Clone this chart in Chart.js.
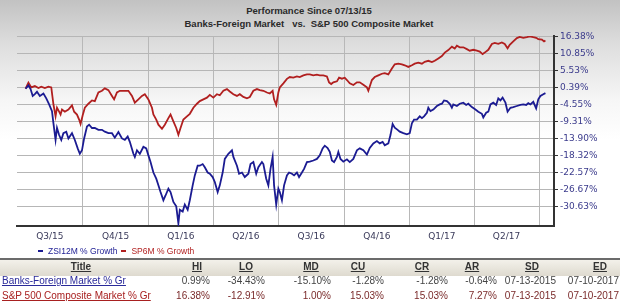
<!DOCTYPE html>
<html>
<head>
<meta charset="utf-8">
<title>Performance Since 07/13/15</title>
<script src="https://cdn.jsdelivr.net/npm/chart.js"></script>
<style>
  body{margin:0;}
  #wrap{position:relative;width:620px;height:303px;overflow:hidden;
    background:linear-gradient(to bottom,#c2c2c2 0px,#dedede 45px,#f6f6f6 100px,#ffffff 140px);
    font-family:"Liberation Sans",Arial,sans-serif;}
  #chart{position:absolute;left:0;top:0;}
  .title{position:absolute;left:0;width:618px;text-align:center;font-weight:bold;font-size:9.5px;color:#2a2a2a;white-space:pre;}
  #legend{position:absolute;left:38px;top:245px;font-size:8.5px;white-space:nowrap;}
  #legend span{display:inline-block;vertical-align:middle;}
  #legend .dash{width:5px;height:2px;margin-right:5px;}
  #legend .txt{margin-right:4px;}
  #tbl{position:absolute;left:0;top:256px;width:620px;height:47px;background:#fff;font-size:10px;}
  #tbl .band{position:absolute;left:0;top:2px;width:620px;height:16px;background:linear-gradient(#f3f1ea,#dedacf);border-top:2px solid #6b6b6b;}
  #tbl .cell{position:absolute;white-space:nowrap;line-height:12px;}
  #tbl .head{font-weight:bold;text-decoration:underline;color:#333;transform:translateX(-50%);}
</style>
</head>
<body>
<div id="wrap">
  <div class="title" style="top:5px">Performance Since 07/13/15</div>
  <div class="title" style="top:18px">Banks-Foreign Market   vs.  S&amp;P 500 Composite Market</div>
  <canvas id="chart" width="620" height="303"></canvas>
  <div id="legend"></div>
  <div id="tbl"><div class="band"></div></div>
</div>
<script>
// days counted from 07/01/2015, values are % growth since 07/13/15
const zsiDays = [12,16,19,22,25,28,32,37,41,45,49,51,54,56,59,62,65,69,72,77,81,85,88,91,94,98,101,105,109,114,119,123,128,133,137,142,147,151,155,158,163,165,168,172,177,181,184,187,191,195,198,201,205,208,212,215,219,223,226,228,232,235,239,242,246,249,253,256,260,263,267,270,274,277,281,284,288,291,296,301,303,308,311,315,319,324,327,331,335,338,343,345,349,352,355,358,360,363,366,368,371,374,378,381,385,388,392,395,399,402,406,410,415,420,424,428,431,435,438,441,444,448,450,453,457,462,466,471,476,480,485,490,494,499,504,508,512,515,520,523,526,529,533,536,541,546,550,553,556,560,564,567,570,574,576,579,583,588,592,595,598,602,606,609,611,616,620,625,629,632,637,642,646,651,653,657,660,663,667,671,674,677,680,684,687,691,695,700,705,709,713,716,719,723,727,730,733,737,740];
const zsiGrowth = [0,0.99,-0.1,-2.1,-1.6,-0.9,-2.1,-1.4,-2.8,-4.55,-6.45,-9.8,-14.3,-11.1,-13.0,-14.3,-12.5,-12.1,-13.9,-12.5,-14.3,-16.5,-17.9,-17.0,-13.9,-10.7,-10.2,-11.1,-11.1,-11.6,-11.6,-12.1,-12.5,-12.5,-13.7,-12.2,-13.9,-14.3,-13.4,-14.8,-17.9,-18.7,-17.0,-17.9,-16.1,-16.5,-18.3,-20.0,-22.6,-24.1,-25.7,-27.3,-29.2,-28.1,-26.5,-27.3,-29.6,-30.6,-34.43,-31.4,-31.8,-30.2,-31.4,-29.2,-25.7,-23.3,-20.9,-20.9,-20.5,-21.3,-22.6,-22.9,-23.7,-24.9,-27.3,-25.7,-22.6,-19.2,-17.9,-17.0,-18.7,-20.9,-22.9,-22.6,-23.7,-22.9,-20.5,-20.0,-22.9,-21.3,-20.0,-20.5,-24.1,-25.7,-21.7,-18.7,-25.7,-30.2,-26.5,-27.3,-29.2,-25.7,-23.3,-22.6,-22.9,-23.3,-22.6,-23.7,-22.6,-21.7,-20.0,-19.9,-19.6,-19.2,-18.3,-16.5,-15.8,-16.4,-17.4,-19.6,-20.0,-18.7,-17.4,-19.2,-19.9,-19.3,-20.0,-19.2,-17.0,-16.5,-17.0,-18.1,-16.4,-15.2,-14.6,-15.2,-14.8,-15.7,-15.2,-13.0,-10.0,-11.0,-11.6,-12.1,-12.5,-12.8,-12.5,-9.8,-8.8,-8.8,-7.9,-8.4,-7.9,-6.9,-5.5,-6.45,-6.0,-5.0,-4.55,-4.35,-3.4,-3.6,-4.35,-5.5,-4.55,-5.0,-4.35,-4.05,-4.7,-4.35,-5.3,-6.0,-6.6,-7.2,-8.2,-6.9,-6.6,-4.55,-4.05,-4.7,-2.8,-3.4,-2.6,-4.05,-6.6,-5.5,-5.3,-5.0,-4.7,-4.55,-4.7,-4.2,-4.55,-3.8,-5.7,-3.1,-2.1,-1.6,-1.28];

const spDays = [12,16,20,25,30,34,39,44,48,51,54,56,59,61,63,67,72,77,80,84,87,89,92,95,100,105,109,114,119,123,128,133,136,140,144,151,156,161,165,170,175,179,184,189,191,195,198,203,207,212,215,219,223,226,229,233,238,242,247,252,256,261,266,270,275,280,284,289,294,298,303,308,312,317,322,326,331,336,340,345,350,354,358,360,363,366,368,373,378,382,387,392,396,401,406,410,415,420,424,429,434,437,440,443,448,451,455,459,462,466,471,476,480,485,490,492,497,501,506,511,515,520,525,529,534,539,543,548,553,557,562,567,571,576,581,585,590,595,599,604,609,613,616,620,625,630,634,639,644,648,652,655,660,665,669,674,679,683,687,690,695,700,704,709,714,718,723,727,730,735,738,740];
const spGrowth = [0,1.8,0.4,0.8,0.2,0.6,0.2,0.6,0.4,-4.5,-7.9,-5.5,-6.6,-7.4,-6.0,-6.6,-6.0,-4.8,-6.6,-7.4,-8.8,-10.0,-7.6,-5.5,-4.35,-3.4,-3.6,-1.1,-0.6,0.1,-0.4,-2.1,-3.1,-1.1,-0.6,-0.6,-0.6,-2.1,-4.05,-3.1,-2.1,-1.6,-3.1,-5.5,-7.4,-8.8,-10.2,-11.3,-10.2,-8.4,-7.4,-9.3,-11.1,-12.91,-11.1,-8.8,-7.9,-7.2,-5.5,-4.35,-3.6,-3.1,-2.6,-1.8,-2.6,-1.6,-1.9,-0.6,-0.1,-0.8,-1.6,-2.1,-1.6,-2.4,-2.8,-2.4,-0.6,-0.1,-0.4,-0.6,-1.1,-1.4,-0.6,-3.1,-4.7,-1.1,0.4,1.6,2.96,3.5,3.3,3.7,3.5,4.0,4.3,4.3,4.0,4.2,4.0,4.0,3.7,1.9,1.4,1.9,2.2,3.3,3.0,3.3,2.6,1.6,1.1,1.9,1.9,1.2,0.4,-0.6,2.6,3.5,4.0,4.5,4.7,4.3,6.1,7.4,7.6,7.4,7.1,6.6,7.1,7.6,7.9,7.6,8.2,8.5,8.1,8.5,9.25,10.0,11.1,11.9,13.0,12.4,13.3,12.8,12.8,12.2,11.7,12.0,11.7,11.4,10.6,11.1,12.0,13.9,14.2,13.9,14.4,13.9,12.5,13.6,14.7,15.8,16.2,15.9,16.1,16.38,16.1,15.9,15.5,15.3,14.7,15.03];

// right axis ticks (the axis is not linear, it spaces these evenly)
const yTicks = [16.38,10.85,5.53,0.39,-4.55,-9.31,-13.90,-18.32,-22.57,-26.67,-30.63];
// quarter starts as days from 07/01/2015, and their labels
const quarterStarts = [0,92,184,275,366,458,550,640,731];
const quarterLabels = ['Q3/15','Q4/15','Q1/16','Q2/16','Q3/16','Q4/16','Q1/17','Q2/17'];

const seriesNames = ['ZSI12M % Growth','SP6M % Growth'];
const seriesColors = ['#1b1b92','#b11f1f'];

const tableHeads = ['Title','HI','LO','MD','CU','CR','AR','SD','ED'];
const banksRow = ['Banks-Foreign Market % Gr','0.99%','-34.43%','-15.10%','-1.28%','-1.28%','-0.64%','07-13-2015','07-10-2017'];
const spRow = ['S&P 500 Composite Market % Gr','16.38%','-12.91%','1.00%','15.03%','15.03%','7.27%','07-13-2015','07-10-2017'];

// the chart's scale is logarithmic on (value + OFFSET)
const OFFSET = 135;

const gridDays = quarterStarts.slice(1);
const labelAt = {};
quarterLabels.forEach((q, i) => {
    labelAt[(quarterStarts[i] + quarterStarts[i + 1]) / 2] = q;
});
const xTickValues = [...gridDays, ...Object.keys(labelAt).map(Number)].sort((a, b) => a - b);

function toPoints(days, vals){
    return days.map((d, i) => ({x: d, y: vals[i] + OFFSET}));
}

const ctx = document.getElementById('chart').getContext('2d');
const myChart = new Chart(ctx, {
    type: 'line',
    data: {
        datasets: [{
            label: seriesNames[0],
            data: toPoints(zsiDays, zsiGrowth),
            borderColor: seriesColors[0],
            borderWidth: 1.8,
            pointRadius: 0,
            tension: 0
        }, {
            label: seriesNames[1],
            data: toPoints(spDays, spGrowth),
            borderColor: seriesColors[1],
            borderWidth: 1.8,
            pointRadius: 0,
            tension: 0
        }]
    },
    options: {
        responsive: false,
        animation: false,
        devicePixelRatio: 1,
        layout: {padding: {left: 17, top: 36, right: 0, bottom: 53}},
        plugins: {legend: {display: false}, tooltip: {enabled: false}},
        scales: {
            x: {
                type: 'linear',
                min: 0,
                max: 752,
                afterBuildTicks: axis => { axis.ticks = xTickValues.map(v => ({value: v})); },
                afterFit: axis => { axis.height = 24; },
                grid: {
                    drawTicks: false,
                    lineWidth: 1,
                    color: c => (c.tick && gridDays.includes(c.tick.value)) ? '#b8b8b8' : 'rgba(0,0,0,0)'
                },
                border: {display: true, color: '#333', width: 2},
                ticks: {
                    autoSkip: false,
                    maxRotation: 0,
                    padding: 5,
                    color: '#3a3a5a',
                    font: {family: 'DejaVu Sans', size: 9},
                    callback: value => labelAt[value] || ''
                }
            },
            y: {
                type: 'logarithmic',
                position: 'right',
                min: -35 + OFFSET,
                max: 16.5 + OFFSET,
                afterBuildTicks: axis => { axis.ticks = yTicks.map(v => ({value: v + OFFSET})); },
                afterFit: axis => { axis.width = 66; },
                grid: {color: '#b6b6b6', lineWidth: 1, tickColor: '#333', tickLength: 4},
                border: {display: true, color: '#333', width: 2},
                ticks: {
                    padding: 2,
                    color: '#3b3b8c',
                    font: {family: 'DejaVu Sans', size: 9},
                    callback: (value, index) => yTicks[index].toFixed(2) + '%'
                }
            }
        }
    }
});

// legend under the axis
const legend = document.getElementById('legend');
seriesNames.forEach((name, i) => {
    legend.innerHTML += '<span class="dash" style="background:' + seriesColors[i] + '"></span>' +
        '<span class="txt" style="color:' + seriesColors[i] + '">' + name + '</span>';
});

// summary table
const tbl = document.getElementById('tbl');
const headCenters = [81,197,246,311,358,422,472,532,600];
const valueRights = [0,210,265,331,384,448,497,556,619];
tableHeads.forEach((h, i) => {
    tbl.innerHTML += '<div class="cell head" style="left:' + headCenters[i] + 'px;top:5px">' + h + '</div>';
});
[[banksRow, '#2a2a9a', '#444'], [spRow, '#a82020', '#7a2a2a']].forEach(([row, linkColor, valColor], r) => {
    const top = 19 + r * 15;
    row.forEach((v, i) => {
        if (i === 0) {
            tbl.innerHTML += '<div class="cell" style="left:2px;top:' + top + 'px;color:' + linkColor + ';text-decoration:underline">' + v.replace('&', '&amp;') + '</div>';
        } else {
            tbl.innerHTML += '<div class="cell" style="right:' + (620 - valueRights[i]) + 'px;top:' + top + 'px;color:' + valColor + '">' + v + '</div>';
        }
    });
});
</script>
</body>
</html>
